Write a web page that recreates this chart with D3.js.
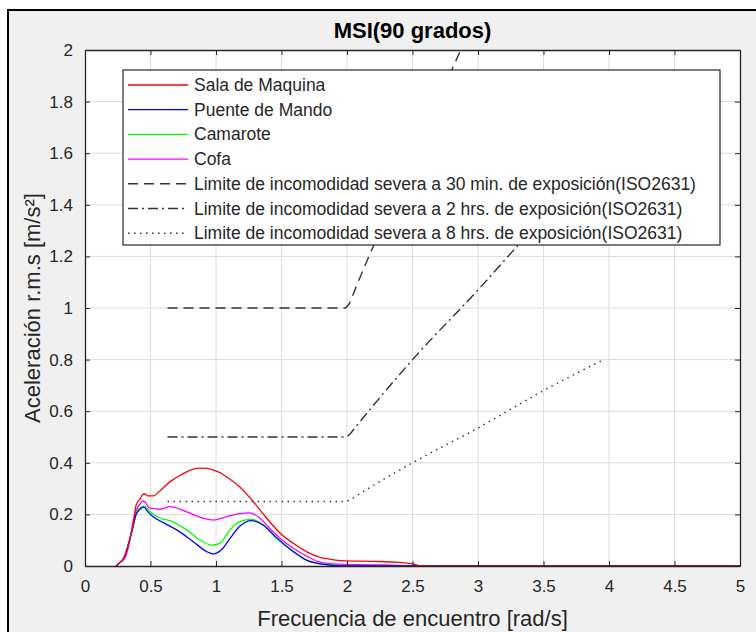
<!DOCTYPE html>
<meta charset="utf-8">
<style>
body { margin: 0; background: #fff; }
svg { display: block; font-family: "Liberation Sans", Arial, sans-serif; }
.grid line { stroke: #dcdcdc; stroke-width: 1; }
.axis text { fill: #262626; font-size: 17px; }
.axis path, .axis line { stroke: #262626; }
</style>
<svg width="756" height="632"></svg>
<script src="https://cdnjs.cloudflare.com/ajax/libs/d3/7.8.5/d3.min.js"></script>
<script>

// response curves (x in rad/s, y in m/s^2)
var salaX  = [0.237, 0.27, 0.30, 0.34, 0.37, 0.39, 0.42, 0.45, 0.48, 0.52, 0.58, 0.65, 0.72, 0.78, 0.865, 0.93, 0.98, 1.03, 1.08, 1.18, 1.285, 1.387, 1.49, 1.59, 1.69, 1.79, 1.9, 2.0, 2.2, 2.4, 2.5, 2.57, 5.0];
var salaY  = [0,     0.015, 0.035, 0.10, 0.17, 0.236, 0.26, 0.28, 0.272, 0.272, 0.295, 0.327, 0.35, 0.366, 0.379, 0.378, 0.372, 0.362, 0.346, 0.307, 0.249, 0.185, 0.127, 0.088, 0.056, 0.034, 0.024, 0.02, 0.018, 0.014, 0.008, 0, 0];

var puenteX = [0.237, 0.27, 0.30, 0.34, 0.37, 0.39, 0.42, 0.45, 0.48, 0.52, 0.598, 0.70, 0.827, 0.929, 0.98, 1.04, 1.107, 1.183, 1.27, 1.36, 1.46, 1.59, 1.69, 1.8, 1.9, 2.0, 5.0];
var puenteY = [0,     0.015, 0.035, 0.10, 0.16, 0.20,  0.22, 0.228, 0.21, 0.191, 0.168, 0.14, 0.094, 0.056, 0.047, 0.062, 0.107, 0.155, 0.176, 0.159, 0.111, 0.056, 0.023, 0.008, 0.002, 0, 0];

var camaroteX = [0.237, 0.27, 0.30, 0.34, 0.37, 0.39, 0.42, 0.45, 0.496, 0.573, 0.649, 0.776, 0.878, 0.967, 1.03, 1.107, 1.183, 1.27, 1.36, 1.46, 1.59, 1.69, 1.78, 1.9, 2.0, 5.0];
var camaroteY = [0,     0.015, 0.035, 0.10, 0.16, 0.205, 0.225, 0.233, 0.21, 0.185, 0.176, 0.14, 0.10, 0.081, 0.088, 0.14, 0.172, 0.181, 0.159, 0.107, 0.056, 0.023, 0.01, 0.003, 0, 0];

var cofaX = [0.237, 0.27, 0.305, 0.343, 0.374, 0.40, 0.42, 0.445, 0.496, 0.573, 0.649, 0.776, 0.903, 0.98, 1.08, 1.18, 1.26, 1.336, 1.41, 1.49, 1.59, 1.69, 1.78, 1.9, 2.1, 2.3, 2.55, 5.0];
var cofaY = [0,     0.015, 0.03, 0.10, 0.19,  0.225, 0.24, 0.252, 0.224, 0.22, 0.23, 0.21, 0.185, 0.178, 0.191, 0.203, 0.206, 0.185, 0.146, 0.107, 0.069, 0.039, 0.017, 0.008, 0.005, 0.004, 0, 0];

// ISO2631 severe discomfort limits
var lim30X = [0.63, 1.98, 2.02, 2.06, 2.5, 3.0, 3.96];
var lim30Y = [1.0,  1.0,  1.02, 1.07, 1.58, 2.15, 3.24];
var lim2hX = [0.63, 1.98, 2.02, 2.06, 2.5, 3.0, 3.3, 3.96];
var lim2hY = [0.5,  0.5,  0.51, 0.535, 0.80, 1.07, 1.24, 1.61];
var lim8hX = [0.63, 1.98, 2.02, 2.06, 2.5, 3.0, 3.5, 3.96];
var lim8hY = [0.25, 0.25, 0.255, 0.268, 0.40, 0.535, 0.68, 0.80];

var xTicks = [0, 0.5, 1, 1.5, 2, 2.5, 3, 3.5, 4, 4.5, 5];
var yTicks = [0, 0.2, 0.4, 0.6, 0.8, 1, 1.2, 1.4, 1.6, 1.8, 2];

var series = [
  {name: "Sala de Maquina", x: salaX, y: salaY, color: "#ff0000", dash: null},
  {name: "Puente de Mando", x: puenteX, y: puenteY, color: "#0000ff", dash: null},
  {name: "Camarote", x: camaroteX, y: camaroteY, color: "#00ff00", dash: null},
  {name: "Cofa", x: cofaX, y: cofaY, color: "#ff00ff", dash: null},
  {name: "Limite de incomodidad severa a 30 min. de exposición(ISO2631)", x: lim30X, y: lim30Y, color: "#333", dash: "10,6"},
  {name: "Limite de incomodidad severa a 2 hrs. de exposición(ISO2631)", x: lim2hX, y: lim2hY, color: "#333", dash: "10,4,2,4"},
  {name: "Limite de incomodidad severa a 8 hrs. de exposición(ISO2631)", x: lim8hX, y: lim8hY, color: "#333", dash: "1.5,4.5"}
];

var svg = d3.select("svg");

// figure background and border
svg.append("rect").attr("x", 8).attr("y", 10).attr("width", 760).attr("height", 640)
    .attr("fill", "#f0f0f0").attr("stroke", "#000").attr("stroke-width", 2);

var pLeft = 85, pTop = 50, pRight = 740, pBottom = 566;

var x = d3.scaleLinear().domain([0, 5]).range([pLeft, pRight]);
var y = d3.scaleLinear().domain([0, 2]).range([pBottom, pTop]);

svg.append("rect").attr("x", pLeft).attr("y", pTop)
    .attr("width", pRight - pLeft).attr("height", pBottom - pTop).attr("fill", "#fff");

var grid = svg.append("g").attr("class", "grid");
grid.selectAll(".gx").data(xTicks.slice(1, -1)).enter().append("line")
    .attr("x1", function(d) { return x(d); }).attr("x2", function(d) { return x(d); })
    .attr("y1", pTop).attr("y2", pBottom);
grid.selectAll(".gy").data(yTicks.slice(1, -1)).enter().append("line")
    .attr("y1", function(d) { return y(d); }).attr("y2", function(d) { return y(d); })
    .attr("x1", pLeft).attr("x2", pRight);

svg.append("clipPath").attr("id", "clip").append("rect")
    .attr("x", pLeft).attr("y", pTop).attr("width", pRight - pLeft).attr("height", pBottom - pTop);

var line = d3.line()
    .x(function(d) { return x(d[0]); })
    .y(function(d) { return y(d[1]); })
    .curve(d3.curveMonotoneX);

var plot = svg.append("g").attr("clip-path", "url(#clip)");
series.slice().reverse().forEach(function(s) {
  var pts = s.x.map(function(v, i) { return [v, s.y[i]]; });
  plot.append("path")
      .attr("d", line(pts))
      .attr("fill", "none")
      .attr("stroke", s.color)
      .attr("stroke-width", s.dash ? 1.4 : 1.3)
      .attr("stroke-dasharray", s.dash);
});

// axes (ticks inward, box on)
function fmt(d) { return d3.format("~g")(d); }
svg.append("g").attr("class", "axis")
    .attr("transform", "translate(0," + pBottom + ")")
    .call(d3.axisBottom(x).tickValues(xTicks).tickFormat(fmt).tickSizeInner(-5).tickSizeOuter(0).tickPadding(14));
svg.append("g").attr("class", "axis")
    .attr("transform", "translate(" + pLeft + ",0)")
    .call(d3.axisLeft(y).tickValues(yTicks).tickFormat(fmt).tickSizeInner(-5).tickSizeOuter(0).tickPadding(12));
svg.append("g").attr("class", "axis")
    .attr("transform", "translate(0," + pTop + ")")
    .call(d3.axisTop(x).tickValues(xTicks).tickFormat("").tickSizeInner(-5).tickSizeOuter(0));
svg.append("g").attr("class", "axis")
    .attr("transform", "translate(" + pRight + ",0)")
    .call(d3.axisRight(y).tickValues(yTicks).tickFormat("").tickSizeInner(-5).tickSizeOuter(0));
svg.selectAll(".axis .domain").attr("stroke-width", 1.3);

// title and labels
svg.append("text").attr("x", (pLeft + pRight) / 2).attr("y", 38)
    .attr("text-anchor", "middle").attr("font-weight", "bold").attr("font-size", 22)
    .attr("fill", "#000").text("MSI(90 grados)");
svg.append("text").attr("x", (pLeft + pRight) / 2).attr("y", 626)
    .attr("text-anchor", "middle").attr("font-size", 22)
    .attr("fill", "#262626").text("Frecuencia de encuentro [rad/s]");
svg.append("text").attr("transform", "translate(40," + (pTop + pBottom) / 2 + ") rotate(-90)")
    .attr("text-anchor", "middle").attr("font-size", 22)
    .attr("fill", "#262626").text("Aceleración r.m.s [m/s²]");

// legend
var lg = svg.append("g");
lg.append("rect").attr("x", 123).attr("y", 70).attr("width", 597).attr("height", 175)
    .attr("fill", "#fff").attr("stroke", "#262626").attr("stroke-width", 1.2);
series.forEach(function(s, i) {
  var yy = 85 + i * 24.7;
  lg.append("line").attr("x1", 128).attr("x2", 188).attr("y1", yy).attr("y2", yy)
      .attr("stroke", s.color).attr("stroke-width", s.dash ? 1.4 : 1.3)
      .attr("stroke-dasharray", s.dash);
  lg.append("text").attr("x", 194).attr("y", yy + 6)
      .attr("font-size", 17.5).attr("fill", "#262626").text(s.name);
});

</script>
